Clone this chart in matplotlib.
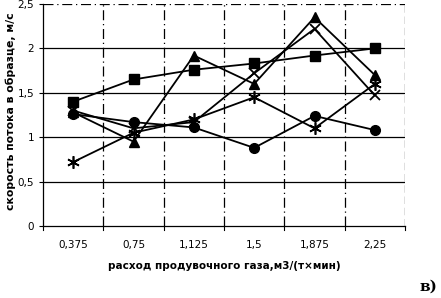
import matplotlib
matplotlib.use("Agg")
import matplotlib.pyplot as plt
import numpy as np

categories = ["0,375", "0,75", "1,125", "1,5", "1,875", "2,25"]
squares = [1.40, 1.65, 1.76, 1.83, 1.92, 2.00]
circles = [1.26, 1.17, 1.11, 0.88, 1.24, 1.08]
triangles = [1.28, 0.95, 1.92, 1.60, 2.35, 1.70]
stars = [0.72, 1.05, 1.20, 1.45, 1.10, 1.60]
crosses = [1.30, 1.10, 1.17, 1.72, 2.22, 1.47]
yticks = [0, 0.5, 1, 1.5, 2, 2.5]
ytick_labels = ["0", "0,5", "1", "1,5", "2", "2,5"]

fig = plt.figure(figsize=(4.41, 2.98), dpi=100)
ax = fig.add_axes([43/441, 1-226/298, (405-43)/441, (226-4)/298])
x = np.arange(len(categories))

ax.plot(x, crosses, color="black", lw=1.3, marker="x", ms=7, mew=1.3, zorder=3)
ax.plot(x, stars, color="black", lw=1.3, marker=(6, 2, 0), ms=9, mew=1.2, zorder=3)
ax.plot(x, triangles, color="black", lw=1.3, marker="^", ms=7, zorder=3)
ax.plot(x, circles, color="black", lw=1.3, marker="o", ms=7, zorder=3)
ax.plot(x, squares, color="black", lw=1.3, marker="s", ms=7, zorder=3)

ax.set_xlim(-0.5, len(categories) - 0.5)
ax.set_ylim(0, 2.5)
ax.set_yticks(yticks)
ax.set_yticklabels(ytick_labels, fontsize=7.5)
ax.set_xticks(x)
ax.set_xticklabels(categories, fontsize=7.5)
ax.tick_params(axis="x", length=0, pad=10)
ax.tick_params(axis="y", length=3, direction="out")
for b in np.arange(-0.5, len(categories), 1.0):
    ax.plot([b, b], [0, -0.04], color="black", lw=0.8, clip_on=False)
for yy in yticks[1:-1]:
    ax.axhline(yy, color="black", lw=0.9, zorder=1)
ax.axhline(2.5, color="black", lw=0.9, ls=(0, (8, 3, 1, 3)), zorder=1)
for b in np.arange(0.5, len(categories) - 0.5, 1.0):
    ax.axvline(b, color="black", lw=0.9, ls=(0, (8, 3, 1, 3)), zorder=1)
for s in ["top", "right"]:
    ax.spines[s].set_visible(False)
ax.axvline(len(categories) - 0.5, color="black", lw=0.9, ls=(0, (6, 3)), zorder=1)
ax.spines["left"].set_linewidth(0.9)
ax.spines["bottom"].set_linewidth(0.9)

ax.set_xlabel("расход продувочного газа,м3/(т×мин)", fontsize=7.5, fontweight="bold", labelpad=8)
fig.text(11/441, 1-111/298, "скорость потока в образце, м/с", fontsize=7.8, fontweight="bold",
         rotation=90, ha="center", va="center")
fig.text(428/441, 1-287/298, "в)", fontsize=11, family="DejaVu Serif", fontweight="bold", ha="center", va="center")

fig.savefig("out.png", dpi=100)
